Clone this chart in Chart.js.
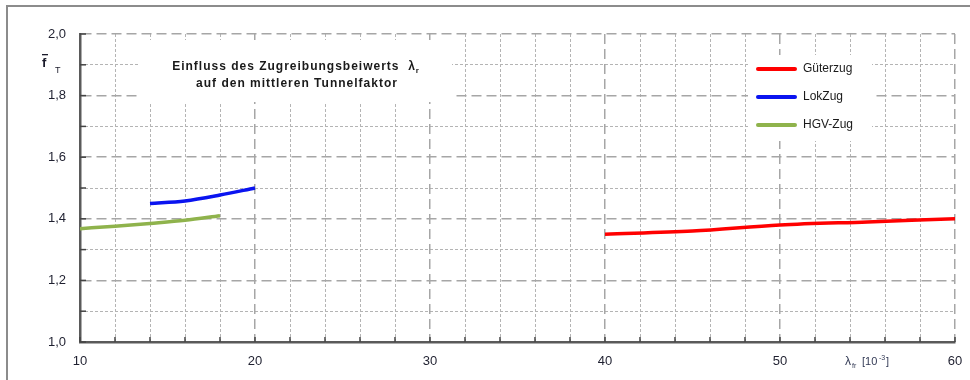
<!DOCTYPE html>
<html>
<head>
<meta charset="utf-8">
<script src="https://cdn.jsdelivr.net/npm/chart.js@4/dist/chart.umd.min.js"></script>
<style>
html,body{margin:0;padding:0;background:#fff;}
#wrap{position:relative;width:970px;height:380px;}
#frame{position:absolute;left:6px;top:5px;right:0;bottom:0;border-top:2px solid #8c8c8c;border-left:2px solid #8c8c8c;pointer-events:none;}
canvas{display:block;}
</style>
</head>
<body>
<div id="wrap"><canvas id="chart" width="970" height="380"></canvas><div id="frame"></div></div>
<script>
// data
const seriesNames = ['Güterzug', 'LokZug', 'HGV-Zug'];
const gueterX = [40, 45, 50, 55, 60];
const gueterY = [1.35, 1.36, 1.38, 1.39, 1.40];
const lokX = [14, 16, 18, 20];
const lokY = [1.45, 1.458, 1.477, 1.50];
const hgvX = [10, 12, 14, 16, 18];
const hgvY = [1.368, 1.376, 1.385, 1.395, 1.41];
const xTicks = [10, 20, 30, 40, 50, 60];
const yTicks = [1.0, 1.2, 1.4, 1.6, 1.8, 2.0];
const titleLines = ['Einfluss des Zugreibungsbeiwerts', 'auf den mittleren Tunnelfaktor'];

const colors = ['#ff0000', '#0a14f0', '#8fb34c'];
const pts = (xs, ys) => xs.map((x, i) => ({x: x, y: ys[i]}));

const majorGrid = '#a6a6a6', minorGrid = '#b4b4b4';
const isMajorY = v => Math.round(v * 10) % 2 === 0;
const isMajorX = v => Math.round(v) % 10 === 0;

// white boxes, title, legend, axis labels, inner tick marks
const overlay = {
  id: 'overlay',
  beforeDatasetsDraw(chart) {
    const ctx = chart.ctx;
    ctx.save();
    ctx.fillStyle = '#fff';
    ctx.fillRect(140, 40, 312, 62);
    ctx.fillRect(748, 55, 124, 86);

    // title
    ctx.fillStyle = '#1a1a1a';
    ctx.textBaseline = 'middle';
    ctx.textAlign = 'left';
    ctx.letterSpacing = '1px';
    ctx.font = 'bold 12px "Liberation Sans", Arial, sans-serif';
    const l1 = titleLines[0] + '  λ';
    const w1 = ctx.measureText(l1).width + 6;
    let x0 = 297 - w1 / 2;
    ctx.fillText(l1, x0, 67);
    ctx.font = 'bold 8px "Liberation Sans", Arial, sans-serif';
    ctx.fillText('r', x0 + w1 - 6, 71);
    ctx.font = 'bold 12px "Liberation Sans", Arial, sans-serif';
    ctx.textAlign = 'center';
    ctx.fillText(titleLines[1], 297, 84);
    ctx.letterSpacing = '0px';

    // legend
    ctx.textAlign = 'left';
    ctx.font = '12px "Liberation Sans", Arial, sans-serif';
    chart.data.datasets.forEach((ds, i) => {
      const y = 69 + i * 28;
      ctx.strokeStyle = ds.borderColor;
      ctx.lineWidth = 4;
      ctx.lineCap = 'round';
      ctx.beginPath(); ctx.moveTo(758, y); ctx.lineTo(795, y); ctx.stroke();
      ctx.fillStyle = '#1a1a1a';
      ctx.fillText(ds.label, 803, y);
    });
    ctx.restore();
  },
  afterDraw(chart) {
    const ctx = chart.ctx, xs = chart.scales.x, ys = chart.scales.y;
    const a = chart.chartArea;
    ctx.save();
    ctx.strokeStyle = '#444';
    ctx.lineWidth = 1.5;
    for (let v = 1.0; v <= 2.0001; v += 0.1) {
      const py = ys.getPixelForValue(v);
      ctx.beginPath(); ctx.moveTo(a.left, py); ctx.lineTo(a.left + 6, py); ctx.stroke();
    }
    for (let v = 10; v <= 60; v += 2) {
      const px = xs.getPixelForValue(v);
      ctx.beginPath(); ctx.moveTo(px, a.bottom); ctx.lineTo(px, a.bottom - 5); ctx.stroke();
    }
    // y axis label  f-bar with subscript T
    ctx.fillStyle = '#1a1a2a';
    ctx.textBaseline = 'middle';
    ctx.font = 'bold 13px "Liberation Sans", Arial, sans-serif';
    ctx.fillText('f', 42, 63);
    ctx.fillRect(42, 54, 6, 1.3);
    ctx.font = '9px "Liberation Sans", Arial, sans-serif';
    ctx.fillText('T', 55, 71);
    // x axis label
    ctx.fillStyle = '#333a55';
    ctx.font = '12px "Liberation Sans", Arial, sans-serif';
    ctx.fillText('λ', 845, 362);
    ctx.font = '7px "Liberation Sans", Arial, sans-serif';
    ctx.fillText('fr', 852, 366);
    ctx.font = '11px "Liberation Sans", Arial, sans-serif';
    ctx.fillText('[10', 862, 362);
    ctx.font = '7px "Liberation Sans", Arial, sans-serif';
    ctx.fillText('-3', 879, 358);
    ctx.font = '11px "Liberation Sans", Arial, sans-serif';
    ctx.fillText(']', 886, 362);
    ctx.restore();
  }
};

const tickFont = {family: '"Liberation Sans", Arial, sans-serif', size: 13};

new Chart(document.getElementById('chart'), {
  type: 'line',
  data: {
    datasets: [
      {label: seriesNames[0], data: pts(gueterX, gueterY), borderColor: colors[0]},
      {label: seriesNames[1], data: pts(lokX, lokY), borderColor: colors[1]},
      {label: seriesNames[2], data: pts(hgvX, hgvY), borderColor: colors[2]}
    ].map(d => Object.assign(d, {borderWidth: 3.5, pointRadius: 0, fill: false, cubicInterpolationMode: 'monotone'}))
  },
  options: {
    responsive: false,
    animation: false,
    devicePixelRatio: 1,
    layout: {padding: {top: 34, right: 0, left: 0, bottom: 0}},
    plugins: {legend: {display: false}, tooltip: {enabled: false}},
    scales: {
      xm: {
        type: 'linear', position: 'bottom', min: 10, max: 60,
        afterFit: s => { s.height = 0; s.paddingRight = 0; s.paddingLeft = 0; },
        ticks: {display: false, stepSize: 2},
        grid: {drawTicks: false, lineWidth: 1, color: c => isMajorX(c.tick.value) ? 'transparent' : minorGrid},
        border: {display: false, dash: [3, 2]}
      },
      ym: {
        type: 'linear', position: 'left', min: 1.0, max: 2.0,
        afterFit: s => { s.width = 0; },
        ticks: {display: false, stepSize: 0.1},
        grid: {drawTicks: false, lineWidth: 1, color: c => isMajorY(c.tick.value) ? 'transparent' : minorGrid},
        border: {display: false, dash: [3, 2]}
      },
      x: {
        type: 'linear', position: 'bottom', min: 10, max: 60,
        afterBuildTicks: s => { s.ticks = xTicks.map(v => ({value: v})); },
        afterFit: s => { s.height = 38; s.paddingRight = 15; s.paddingLeft = 0; },
        ticks: {color: '#1f2030', font: tickFont, padding: 12, maxRotation: 0, autoSkip: false},
        grid: {drawTicks: false, lineWidth: 1.5, color: c => c.tick.value === 10 ? 'transparent' : majorGrid},
        border: {display: true, color: '#5a5a5a', width: 2.5, dash: [10, 5]}
      },
      y: {
        type: 'linear', position: 'left', min: 1.0, max: 2.0,
        afterBuildTicks: s => { s.ticks = yTicks.map(v => ({value: v})); },
        afterFit: s => { s.width = 80; },
        ticks: {color: '#1f2030', font: tickFont, padding: 14, callback: v => v.toFixed(1).replace('.', ',')},
        grid: {drawTicks: false, lineWidth: 1.5, color: c => c.tick.value === 1.0 ? 'transparent' : majorGrid},
        border: {display: true, color: '#5a5a5a', width: 2.5, dash: [10, 5]}
      }
    }
  },
  plugins: [overlay]
});
</script>
</body>
</html>
